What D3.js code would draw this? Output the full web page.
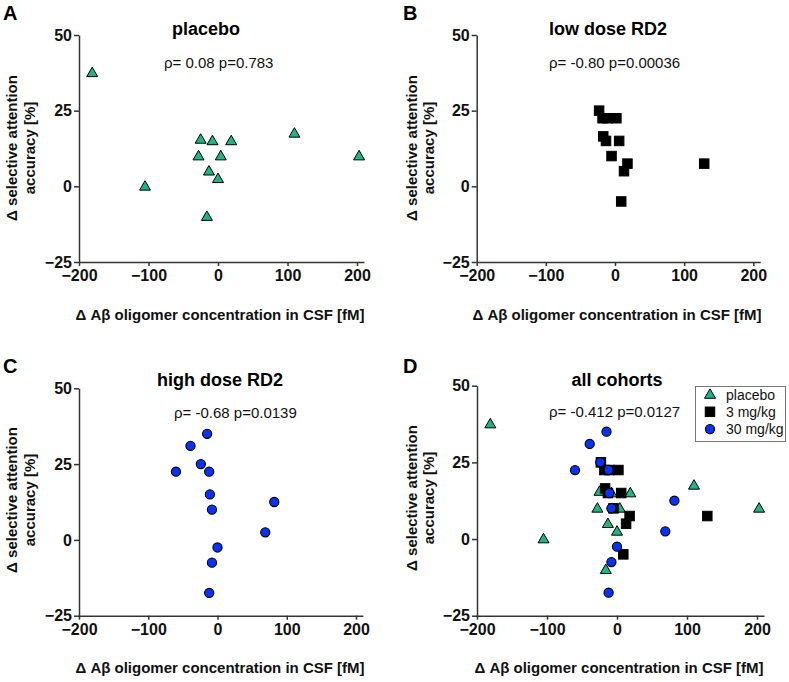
<!DOCTYPE html>
<html>
<head>
<meta charset="utf-8">
<script src="https://cdn.jsdelivr.net/npm/d3@7"></script>
<style>
  html, body { margin: 0; padding: 0; background: #fff; }
  svg text { font-family: "Liberation Sans", Arial, Helvetica, sans-serif; }
</style>
</head>
<body>
<svg id="chart" width="789" height="682"></svg>
<script>
// ---------- data ----------
const placeboX = [-181, -105, 110, 203, -25, -8, 19, -28, 4, -13, 0, -16];
const placeboY = [37.5, 0, 17.5, 10, 15.5, 15, 15, 10, 10, 5, 2.5, -10];

const lowDoseX = [-23, -18, -11, 2, -17, -13, 6, -5, 18, 13, 9, 129];
const lowDoseY = [25, 22.5, 22.5, 22.5, 16.5, 15, 15, 10, 7.5, 5, -5, 7.5];

const highDoseX = [-15, -39, -24, -60, -12, -11, -8, 82, 69, 0, -8, -12];
const highDoseY = [35, 31, 25, 22.5, 22.5, 15, 10, 12.5, 2.5, -2.5, -7.5, -17.5];

const xTicks = [-200, -100, 0, 100, 200];
const yTicks = [-25, 0, 25, 50];
const panelLetters = ["A", "B", "C", "D"];
const panelTitles = ["placebo", "low dose RD2", "high dose RD2", "all cohorts"];
const panelStats = ["ρ= 0.08 p=0.783", "ρ= -0.80 p=0.00036", "ρ= -0.68 p=0.0139", "ρ= -0.412 p=0.0127"];
const legendLabels = ["placebo", "3 mg/kg", "30 mg/kg"];
const xLabel = "Δ Aβ oligomer concentration in CSF [fM]";
const yLabel1 = "Δ selective attention";
const yLabel2 = "accuracy [%]";

// ---------- styles ----------
const groupStyle = {
  placebo: { shape: "triangle", fill: "#1fb583" },
  low: { shape: "square", fill: "#000000" },
  high: { shape: "circle", fill: "#0b31f2" }
};

const seriesData = {
  placebo: placeboX.map((x, i) => ({ x, y: placeboY[i] })),
  low: lowDoseX.map((x, i) => ({ x, y: lowDoseY[i] })),
  high: highDoseX.map((x, i) => ({ x, y: highDoseY[i] }))
};

// ---------- layout ----------
const layout = [
  { x0: 79, x200: 357, top: 35, bottom: 262, letter: [3, 20], title: [206, 35], stats: [164, 68], xlab: [220, 320], ylab: [17, 148], groups: ["placebo"] },
  { x0: 476.7, x200: 753.3, top: 35, bottom: 262, letter: [403, 20], title: [608, 35], stats: [549, 68], xlab: [617, 320], ylab: [416.5, 148], groups: ["low"] },
  { x0: 79, x200: 356, top: 388.3, bottom: 615.7, letter: [3, 373], title: [220, 386], stats: [174, 418], xlab: [220, 673], ylab: [17, 500], groups: ["high"] },
  { x0: 477, x200: 757, top: 385.7, bottom: 615.7, letter: [403, 373], title: [617, 386], stats: [549, 417], xlab: [619, 673], ylab: [416.5, 498], groups: ["placebo", "low", "high"] }
];

const svg = d3.select("#chart");
const axisColor = "#333";

function drawMarker(g, shape, fill, cx, cy) {
  if (shape === "triangle") {
    const w = 11, h = 9.5;
    g.append("path")
      .attr("d", `M${cx},${cy - h * 0.6} L${cx + w / 2},${cy + h * 0.4} L${cx - w / 2},${cy + h * 0.4} Z`)
      .attr("fill", fill).attr("stroke", "#000").attr("stroke-width", 1).attr("stroke-linejoin", "miter");
  } else if (shape === "square") {
    const s = 9.5;
    g.append("rect").attr("x", cx - s / 2).attr("y", cy - s / 2).attr("width", s).attr("height", s)
      .attr("fill", fill).attr("stroke", "#000").attr("stroke-width", 1);
  } else {
    g.append("circle").attr("cx", cx).attr("cy", cy).attr("r", 4.6)
      .attr("fill", fill).attr("stroke", "#000").attr("stroke-width", 1.1);
  }
}

layout.forEach((L, pi) => {
  const pxPerUnit = (L.x200 - L.x0) / 400;
  const x = d3.scaleLinear().domain([-200, 210]).range([L.x0, L.x0 + 410 * pxPerUnit]);
  const y = d3.scaleLinear().domain([-25, 50]).range([L.bottom, L.top]);
  const g = svg.append("g");

  // axes
  const xAxis = d3.axisBottom(x).tickValues(xTicks).tickSize(4).tickSizeOuter(0).tickPadding(4).tickFormat(d3.format("d"));
  const yAxis = d3.axisLeft(y).tickValues(yTicks).tickSize(5).tickSizeOuter(0).tickPadding(2).tickFormat(d3.format("d"));
  const gx = g.append("g").attr("transform", `translate(0,${L.bottom})`).call(xAxis);
  const gy = g.append("g").attr("transform", `translate(${L.x0},0)`).call(yAxis);
  [gx, gy].forEach(a => {
    a.select(".domain").attr("stroke", axisColor).attr("stroke-width", 1.5);
    a.selectAll(".tick line").attr("stroke", axisColor).attr("stroke-width", 1.5);
    a.selectAll(".tick text").attr("fill", "#111").attr("font-size", 16).attr("font-weight", "bold")
      .attr("font-family", '"Liberation Sans", Arial, sans-serif');
  });

  // markers
  const mg = g.append("g");
  L.groups.forEach(key => {
    const st = groupStyle[key];
    seriesData[key].forEach(d => drawMarker(mg, st.shape, st.fill, x(d.x), y(d.y)));
  });

  // texts
  g.append("text").attr("x", L.letter[0]).attr("y", L.letter[1]).text(panelLetters[pi])
    .attr("font-size", 20).attr("font-weight", "bold").attr("fill", "#000");
  g.append("text").attr("x", L.title[0]).attr("y", L.title[1]).attr("text-anchor", "middle").text(panelTitles[pi])
    .attr("font-size", 18).attr("font-weight", "bold").attr("fill", "#000");
  g.append("text").attr("x", L.stats[0]).attr("y", L.stats[1]).text(panelStats[pi])
    .attr("font-size", 15).attr("fill", "#111");
  g.append("text").attr("x", L.xlab[0]).attr("y", L.xlab[1]).attr("text-anchor", "middle").text(xLabel)
    .attr("font-size", 15).attr("font-weight", "bold").attr("fill", "#111");
  const yl = g.append("text").attr("transform", `translate(${L.ylab[0]},${L.ylab[1]}) rotate(-90)`)
    .attr("text-anchor", "middle").attr("font-size", 15).attr("font-weight", "bold").attr("fill", "#111");
  yl.append("tspan").attr("x", 0).attr("y", 0).text(yLabel1);
  yl.append("tspan").attr("x", 0).attr("y", 17.5).text(yLabel2);

  // legend on last panel
  if (pi === 3) {
    const lg = g.append("g");
    lg.append("rect").attr("x", 695.5).attr("y", 386.5).attr("width", 90).attr("height", 55)
      .attr("fill", "#fff").attr("stroke", "#777").attr("stroke-width", 1);
    ["placebo", "low", "high"].forEach((key, i) => {
      const cy = 394.5 + i * 17.3;
      drawMarker(lg, groupStyle[key].shape, groupStyle[key].fill, 710, cy);
      lg.append("text").attr("x", 726).attr("y", cy + 5).text(legendLabels[i])
        .attr("font-size", 14).attr("fill", "#111");
    });
  }
});
</script>
</body>
</html>
